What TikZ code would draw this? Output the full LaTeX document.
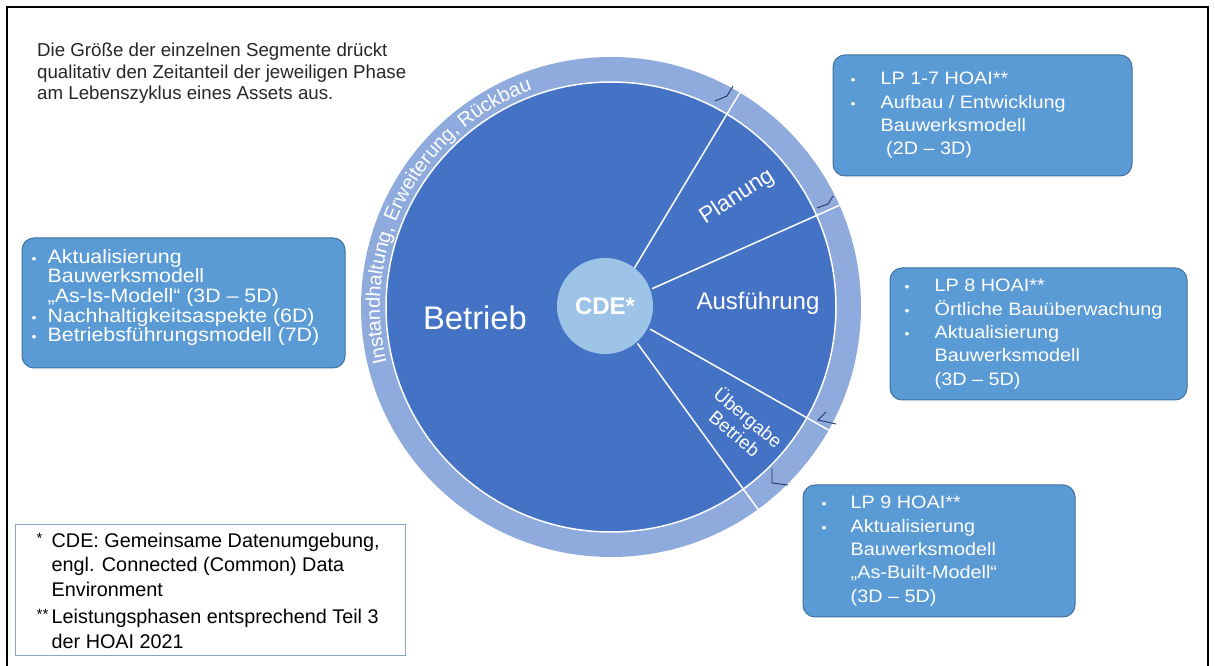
\documentclass[tikz,border=0pt]{standalone}
\usepackage{fontspec}
\setmainfont{Liberation Sans}
\newfontfamily\boxfont[FakeStretch=1.1]{Liberation Sans}
\usepackage{tikz}
\usetikzlibrary{decorations.text}
\usepackage{xcolor}

\definecolor{segblue}{HTML}{4472C4}
\definecolor{ringblue}{HTML}{8FAADC}
\definecolor{cdeblue}{HTML}{9DC3E6}
\definecolor{boxblue}{HTML}{5B9BD5}
\definecolor{boxedge}{HTML}{41719C}
\definecolor{legedge}{HTML}{8FA6C2}
\definecolor{markblue}{HTML}{203864}

\newcommand{\bul}[1]{\makebox[#1][l]{{\fontsize{13}{13}\selectfont\textbullet}}}
\newcommand{\legstar}[1]{\makebox[15pt][l]{\raisebox{4pt}{\fontsize{15}{15}\selectfont #1}}}
\newcommand{\ringfont}{\fontsize{20}{20}\selectfont}

\begin{document}
\begin{tikzpicture}[x=1pt, y=1pt,
    infobox/.style={rectangle, rounded corners=12pt, draw=boxedge, line width=1pt, fill=boxblue},
    boxtext/.style={anchor=west, align=left, inner sep=0pt, text=white, font=\boxfont\fontsize{18}{23.3}\selectfont},
    segtext/.style={text=white, inner sep=0pt},
    sepline/.style={white, line width=1.5pt},
    tickmark/.style={markblue, line width=0.9pt}
]
    \useasboundingbox (0,0) rectangle (1215,666);

    % Frame
    \draw[line width=2pt] (7,-5) -- (7,659) -- (1208,659) -- (1208,-5);

    % Intro text
    \node[anchor=north west, align=left, inner sep=0pt, text=black!85,
          font=\fontsize{18.7}{21.5}\selectfont] (intro) at (37,623)
        {Die Größe der einzelnen Segmente drückt\\
         qualitativ den Zeitanteil der jeweiligen Phase\\
         am Lebenszyklus eines Assets aus.};

    % Ring and segments
    \coordinate (c) at (611,359);
    \fill[ringblue] (c) circle[radius=250];
    \fill[segblue] (c) circle[radius=225];
    \draw[white, line width=1.5pt] (c) circle[radius=225];
    \foreach \a in {59,24,-29.5,-54}
        \draw[sepline] (c) ++(\a:45) -- ++(\a:205);

    % Ring text
    \path[decorate, decoration={text along path, text color=white,
          text={|\ringfont|Instandhaltung, Erweiterung, Rückbau}}]
        (c) ++(194:231) arc[start angle=194, end angle=96, radius=231];

    % Small marks at the ticks
    \draw[tickmark] (715,565) -- (727,570) -- (733,580);
    \draw[tickmark] (817,458) -- (828,462) -- (833,470);
    \draw[tickmark] (826,254) -- (818,246) -- (836,242);
    \draw[tickmark] (772,198) -- (772,183) -- (788,181);

    % CDE
    \node[circle, fill=cdeblue, minimum size=96pt, inner sep=0pt, text=white,
          font=\bfseries\fontsize{24}{24}\selectfont] (cde) at (605,360) {CDE*};

    % Segment labels
    \node[segtext, font=\fontsize{32.8}{32.8}\selectfont] (betrieb) at (475,348) {Betrieb};
    \node[segtext, rotate=33, font=\fontsize{22.7}{22.7}\selectfont] (planung) at (737,469) {Planung};
    \node[segtext, font=\fontsize{24}{24}\selectfont] (ausf) at (758,363) {Ausführung};
    \node[segtext, rotate=-40, align=center, font=\fontsize{18.7}{21}\selectfont] (uebergabe) at (742,241) {Übergabe\\Betrieb};

    % LP 1-7
    \node[infobox, minimum width=299pt, minimum height=121pt] (lp17) at (982.5,550.5) {};
    \node[boxtext] (lp17txt) at ([xshift=18pt]lp17.west)
        {\bul{30pt}LP 1-7 HOAI**\\
         \bul{30pt}Aufbau / Entwicklung\\
         \hspace*{30pt}Bauwerksmodell\\
         \hspace*{30pt} (2D – 3D)};

    % LP 8
    \node[infobox, minimum width=297pt, minimum height=132pt] (lp8) at (1038.5,332) {};
    \node[boxtext] (lp8txt) at ([xshift=15pt]lp8.west)
        {\bul{30pt}LP 8 HOAI**\\
         \bul{30pt}Örtliche Bauüberwachung\\
         \bul{30pt}Aktualisierung\\
         \hspace*{30pt}Bauwerksmodell\\
         \hspace*{30pt}(3D – 5D)};

    % LP 9
    \node[infobox, minimum width=272pt, minimum height=132pt] (lp9) at (939,115) {};
    \node[boxtext] (lp9txt) at ([xshift=19pt]lp9.west)
        {\bul{29pt}LP 9 HOAI**\\
         \bul{29pt}Aktualisierung\\
         \hspace*{29pt}Bauwerksmodell\\
         \hspace*{29pt}„As-Built-Modell“\\
         \hspace*{29pt}(3D – 5D)};

    % Betrieb box
    \node[infobox, minimum width=323pt, minimum height=130pt] (betr) at (183.5,363) {};
    \node[boxtext, font=\boxfont\fontsize{19.4}{19.7}\selectfont] (betrtxt) at ([xshift=10pt,yshift=5.5pt]betr.west)
        {\bul{16pt}Aktualisierung\\
         \hspace*{16pt}Bauwerksmodell\\
         \hspace*{16pt}„As-Is-Modell“ (3D – 5D)\\
         \bul{16pt}Nachhaltigkeitsaspekte (6D)\\
         \bul{16pt}Betriebsführungsmodell (7D)};

    % Legend
    \node[rectangle, draw=legedge, line width=1pt, fill=white, minimum width=390pt, minimum height=131pt] (leg) at (210,75.5) {};
    \node[anchor=west, align=left, inner sep=0pt, font=\fontsize{19.8}{24.5}\selectfont] (legtxt) at ([xshift=22pt]leg.west)
        {\legstar{*}CDE: Gemeinsame Datenumgebung,\\
         \hspace*{15pt}engl. Connected (Common) Data\\
         \hspace*{15pt}Environment\\[3pt]
         \legstar{**}Leistungsphasen entsprechend Teil 3\\
         \hspace*{15pt}der HOAI 2021};
\end{tikzpicture}
\end{document}
